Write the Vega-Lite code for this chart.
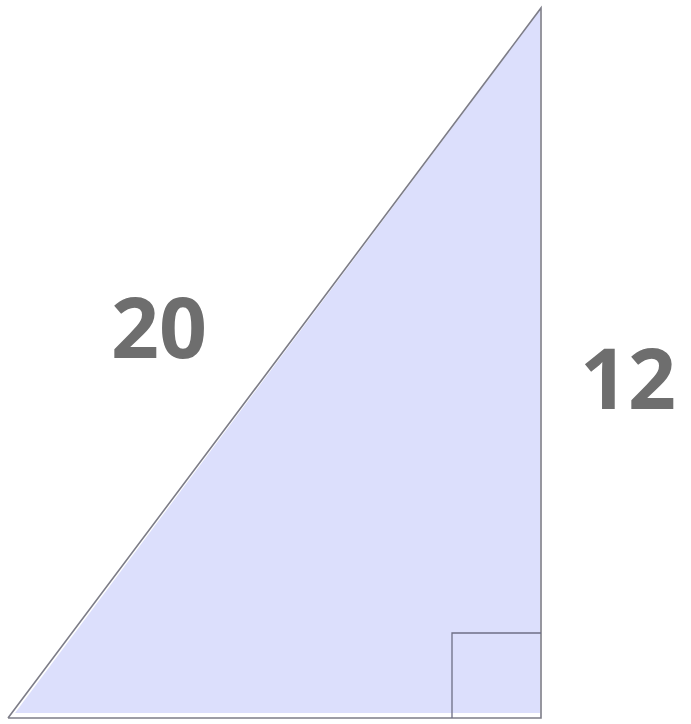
{
  "$schema": "https://vega.github.io/schema/vega-lite/v6.json",
  "width": 691,
  "height": 724,
  "autosize": {"type": "fit", "contains": "padding"},
  "padding": 0,
  "background": "white",
  "config": {"view": {"stroke": null}},
  "datasets": {
    "fill": [
      {"x": 15, "y": 11, "y2": 11},
      {"x": 540, "y": 714, "y2": 11}
    ],
    "outline": [
      {"i": 0, "x": 8, "y": 6},
      {"i": 1, "x": 541, "y": 6},
      {"i": 2, "x": 541, "y": 716},
      {"i": 3, "x": 8, "y": 6}
    ],
    "square": [
      {"i": 0, "x": 452, "y": 6},
      {"i": 1, "x": 452, "y": 91},
      {"i": 2, "x": 541, "y": 91}
    ],
    "labels": [
      {"x": 159, "y": 391, "t": "20"},
      {"x": 628, "y": 340, "t": "12"}
    ]
  },
  "layer": [
    {
      "data": {"name": "fill"},
      "mark": {"type": "area", "color": "#dcdffc", "opacity": 1},
      "encoding": {
        "x": {"field": "x", "type": "quantitative", "scale": {"domain": [0, 691], "nice": false, "zero": false}, "axis": null},
        "y": {"field": "y", "type": "quantitative", "scale": {"domain": [0, 724], "nice": false, "zero": false}, "axis": null},
        "y2": {"field": "y2"}
      }
    },
    {
      "data": {"name": "outline"},
      "mark": {"type": "line", "color": "#7d7d88", "strokeWidth": 1.6},
      "encoding": {
        "x": {"field": "x", "type": "quantitative", "scale": {"domain": [0, 691], "nice": false, "zero": false}, "axis": null},
        "y": {"field": "y", "type": "quantitative", "scale": {"domain": [0, 724], "nice": false, "zero": false}, "axis": null},
        "order": {"field": "i"}
      }
    },
    {
      "data": {"name": "square"},
      "mark": {"type": "line", "color": "#6d6f85", "strokeWidth": 1.3},
      "encoding": {
        "x": {"field": "x", "type": "quantitative", "scale": {"domain": [0, 691], "nice": false, "zero": false}, "axis": null},
        "y": {"field": "y", "type": "quantitative", "scale": {"domain": [0, 724], "nice": false, "zero": false}, "axis": null},
        "order": {"field": "i"}
      }
    },
    {
      "data": {"name": "labels"},
      "mark": {"type": "text", "font": "Open Sans", "fontWeight": "bold", "fontSize": 84, "color": "#6e6e6e", "align": "center", "baseline": "middle"},
      "encoding": {
        "x": {"field": "x", "type": "quantitative", "scale": {"domain": [0, 691], "nice": false, "zero": false}, "axis": null},
        "y": {"field": "y", "type": "quantitative", "scale": {"domain": [0, 724], "nice": false, "zero": false}, "axis": null},
        "text": {"field": "t"}
      }
    }
  ]
}
